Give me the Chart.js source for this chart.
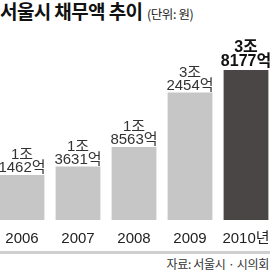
<!DOCTYPE html>
<html>
<head>
<meta charset="utf-8">
<script src="https://cdn.jsdelivr.net/npm/chart.js@4"></script>
<style>
  html, body { margin: 0; padding: 0; background: #fff; }
  body { width: 270px; height: 270px; position: relative; overflow: hidden;
         font-family: "Liberation Sans Narrow", "Liberation Sans", "Noto Sans CJK KR", sans-serif; }
  #title { position: absolute; left: 0px; top: -3px; white-space: nowrap; color: #111; }
  #title b { font-family: "Noto Sans CJK KR", sans-serif; font-size: 19px; font-weight: 700; letter-spacing: -0.6px; }
  #title span { font-family: "Noto Sans CJK KR", sans-serif; font-size: 12.5px; color: #222; letter-spacing: -0.4px; }
  #wrap { position: absolute; left: -6px; top: 0; width: 280px; height: 250px; }
  #rule { position: absolute; left: 0; top: 251px; width: 270px; height: 3px; background: #cfcfcf; }
  #source { position: absolute; right: 1px; top: 255px; font-family: "Noto Sans CJK KR", sans-serif;
            font-size: 12px; color: #333; white-space: nowrap; letter-spacing: -0.3px; }
</style>
</head>
<body>
<div id="title"><b>서울시 채무액 추이</b> <span>(단위: 원)</span></div>
<div id="wrap"><canvas id="chart"></canvas></div>
<div id="rule"></div>
<div id="source">자료: 서울시 · 시의회</div>
<script>
// 서울시 채무액 (단위: 조 원)
const years = ['2006', '2007', '2008', '2009', '2010년'];
const debt = [1.1462, 1.3631, 1.8563, 3.2454, 3.8177];
const labelJo = ['1조', '1조', '1조', '3조', '3조'];
const labelEok = ['1462억', '3631억', '8563억', '2454억', '8177억'];
const barColors = ['#c6c6c6', '#c6c6c6', '#c6c6c6', '#c6c6c6', '#4a4646'];

const narrow = '"Liberation Sans Narrow", "Liberation Sans", "Noto Sans CJK KR", sans-serif';

const valueLabels = {
  id: 'valueLabels',
  afterDatasetsDraw(chart) {
    const ctx = chart.ctx;
    const meta = chart.getDatasetMeta(0);
    ctx.save();
    ctx.textAlign = 'center';
    ctx.textBaseline = 'middle';
    meta.data.forEach((bar, i) => {
      const last = i === meta.data.length - 1;
      ctx.fillStyle = last ? '#111' : '#333';
      ctx.font = last ? 'bold 16px ' + narrow : '15px ' + narrow;
      ctx.fillText(labelJo[i], bar.x, bar.y - (last ? 22 : 20));
      ctx.fillText(labelEok[i], bar.x, bar.y - (last ? 8 : 7));
    });
    ctx.restore();
  }
};

new Chart(document.getElementById('chart'), {
  type: 'bar',
  data: {
    labels: years,
    datasets: [{
      data: debt,
      backgroundColor: barColors,
      borderWidth: 0,
      barPercentage: 0.8,
      categoryPercentage: 1
    }]
  },
  options: {
    responsive: true,
    maintainAspectRatio: false,
    animation: false,
    layout: { padding: { top: 47, left: 0, right: 0, bottom: 0 } },
    plugins: {
      legend: { display: false },
      tooltip: { enabled: false }
    },
    scales: {
      x: {
        grid: { display: false },
        border: { display: false },
        ticks: {
          color: '#222',
          padding: 2,
          font: { family: narrow, size: 15 }
        }
      },
      y: {
        display: false,
        min: 0,
        max: 4.4
      }
    }
  },
  plugins: [valueLabels]
});
</script>
</body>
</html>
